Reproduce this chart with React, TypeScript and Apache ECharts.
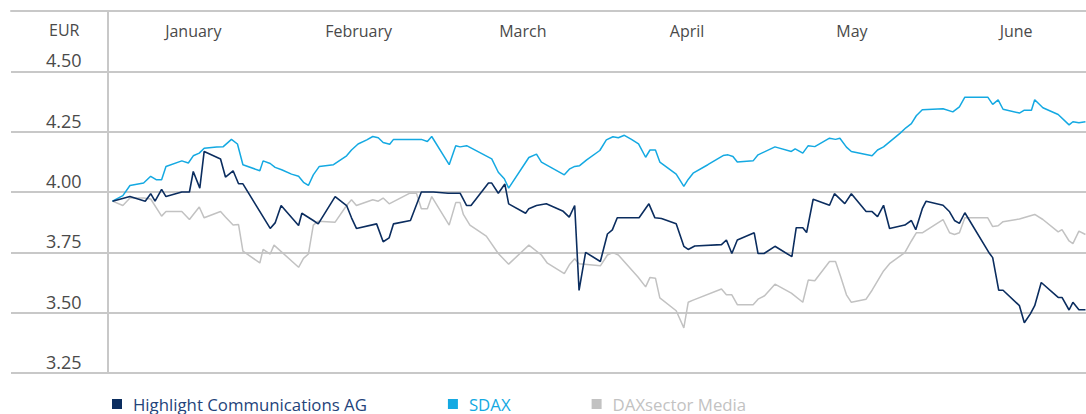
import React, { useEffect, useRef } from "react";
import * as echarts from "echarts";

// x = day of the year (0 = 1 January), y = share price / index in EUR
const monthNames = ["January", "February", "March", "April", "May", "June"];
const monthCenters = [15.7, 46.0, 76.1, 106.2, 136.4, 166.5];
const yTicks = [3.25, 3.5, 3.75, 4.0, 4.25, 4.5, 4.75];
const unitLabel = "EUR";

const highlightName = "Highlight Communications AG";
const sdaxName = "SDAX";
const mediaName = "DAXsector Media";

const highlightData: [number, number][] = [
  [0.9, 3.962], [4.1, 3.981], [6.9, 3.962], [7.9, 3.993], [8.7, 3.962], [9.9, 4.011], [10.7, 3.981],
  [13.6, 4.0], [15.0, 4.0], [15.7, 4.085], [16.9, 4.016], [17.7, 4.168], [20.7, 4.137], [21.6, 4.062],
  [23.0, 4.088], [24.0, 4.034], [24.8, 4.034], [29.8, 3.849], [30.7, 3.872], [31.8, 3.944], [35.0, 3.861],
  [35.6, 3.912], [37.7, 3.882], [38.6, 3.868], [41.7, 3.981], [43.8, 3.944], [44.7, 3.893], [45.6, 3.849],
  [49.3, 3.868], [50.5, 3.794], [51.6, 3.81], [52.4, 3.868], [55.5, 3.882], [57.5, 4.0], [59.7, 4.0],
  [62.4, 3.995], [64.6, 3.995], [65.8, 3.944], [66.6, 3.944], [69.8, 4.037], [70.4, 4.037], [71.6, 3.995],
  [72.8, 4.033], [73.5, 3.951], [76.6, 3.912], [77.2, 3.931], [78.6, 3.944], [80.4, 3.951], [83.5, 3.92],
  [84.6, 3.896], [85.6, 3.944], [86.4, 3.592], [87.6, 3.75], [90.3, 3.712], [91.6, 3.826], [92.5, 3.843],
  [93.4, 3.893], [97.4, 3.893], [99.2, 3.951], [100.3, 3.893], [101.5, 3.89], [104.2, 3.868], [105.6, 3.775],
  [106.4, 3.762], [107.6, 3.776], [112.5, 3.782], [113.4, 3.801], [114.4, 3.745], [115.4, 3.801],
  [118.5, 3.831], [119.2, 3.745], [120.3, 3.745], [122.3, 3.775], [125.4, 3.732], [126.2, 3.852],
  [127.4, 3.852], [128.1, 3.832], [129.3, 3.97], [132.3, 3.945], [133.2, 3.993], [135.1, 3.952],
  [136.3, 3.993], [139.0, 3.919], [140.1, 3.919], [141.1, 3.898], [142.2, 3.945], [143.3, 3.849],
  [146.1, 3.863], [147.3, 3.882], [148.1, 3.844], [149.3, 3.931], [150.0, 3.962], [153.1, 3.945],
  [154.3, 3.918], [155.2, 3.882], [156.1, 3.87], [157.1, 3.914], [161.6, 3.746], [162.2, 3.728],
  [163.3, 3.593], [164.1, 3.593], [167.1, 3.529], [168.0, 3.458], [169.1, 3.495], [169.9, 3.529],
  [171.1, 3.625], [174.2, 3.563], [174.9, 3.563], [176.2, 3.511], [176.9, 3.543], [178.0, 3.512], [179.2, 3.512],
];

const sdaxData: [number, number][] = [
  [0.9, 3.962], [2.8, 3.985], [4.1, 4.027], [6.6, 4.037], [7.9, 4.065], [8.9, 4.051], [9.9, 4.051],
  [10.7, 4.106], [13.6, 4.129], [14.8, 4.12], [15.7, 4.15], [16.8, 4.161], [17.7, 4.181], [20.0, 4.186],
  [21.2, 4.188], [22.7, 4.218], [23.8, 4.199], [24.8, 4.113], [27.9, 4.088], [28.5, 4.129], [29.8, 4.118],
  [30.7, 4.102], [31.9, 4.092], [33.7, 4.074], [35.0, 4.065], [35.9, 4.04], [36.8, 4.027], [37.7, 4.071],
  [38.8, 4.106], [41.4, 4.113], [43.8, 4.15], [44.7, 4.174], [45.9, 4.199], [47.5, 4.216], [48.6, 4.23],
  [49.6, 4.225], [50.5, 4.205], [51.7, 4.198], [52.4, 4.218], [55.4, 4.218], [57.5, 4.218], [58.6, 4.209],
  [59.4, 4.23], [62.6, 4.113], [63.8, 4.192], [64.6, 4.187], [65.8, 4.192], [70.4, 4.137], [71.6, 4.082],
  [72.7, 4.055], [73.5, 4.016], [77.2, 4.143], [78.6, 4.157], [79.5, 4.124], [83.7, 4.071], [84.7, 4.096],
  [85.6, 4.106], [86.5, 4.109], [87.8, 4.133], [90.2, 4.172], [91.4, 4.216], [92.6, 4.229], [93.6, 4.225],
  [94.7, 4.235], [96.0, 4.218], [97.3, 4.199], [98.6, 4.144], [99.4, 4.174], [100.4, 4.174], [101.2, 4.124],
  [104.2, 4.074], [105.6, 4.023], [106.4, 4.052], [107.3, 4.078], [110.0, 4.113], [112.8, 4.151],
  [113.7, 4.154], [114.6, 4.147], [115.4, 4.124], [118.3, 4.129], [119.2, 4.154], [122.3, 4.187],
  [125.3, 4.168], [126.0, 4.179], [127.4, 4.161], [128.4, 4.192], [129.6, 4.188], [132.3, 4.223],
  [133.4, 4.218], [134.2, 4.223], [135.4, 4.186], [136.3, 4.168], [140.1, 4.15], [141.1, 4.174],
  [142.2, 4.187], [145.2, 4.243], [146.3, 4.266], [147.3, 4.283], [148.2, 4.316], [149.3, 4.341],
  [153.1, 4.345], [154.9, 4.332], [156.1, 4.353], [157.1, 4.393], [161.3, 4.393], [162.2, 4.363],
  [163.2, 4.382], [164.1, 4.343], [167.1, 4.327], [168.0, 4.339], [169.3, 4.339], [169.9, 4.382],
  [171.4, 4.349], [174.2, 4.321], [176.2, 4.278], [176.9, 4.291], [178.0, 4.287], [179.2, 4.291],
];

const mediaData: [number, number][] = [
  [0.9, 3.962], [2.8, 3.944], [4.1, 3.975], [6.6, 3.975], [7.9, 3.971], [9.9, 3.9], [10.7, 3.919],
  [13.6, 3.919], [15.0, 3.886], [16.8, 3.938], [17.7, 3.893], [20.7, 3.919], [21.6, 3.896], [23.0, 3.863],
  [24.0, 3.865], [24.8, 3.755], [27.9, 3.706], [28.5, 3.762], [29.8, 3.743], [30.5, 3.78], [35.0, 3.688],
  [35.9, 3.725], [36.8, 3.743], [37.7, 3.863], [38.6, 3.879], [41.7, 3.875], [43.8, 3.944], [44.7, 3.968],
  [45.6, 3.944], [48.6, 3.968], [49.6, 3.962], [50.5, 3.975], [51.6, 3.951], [55.4, 3.995], [56.6, 3.995],
  [57.5, 3.931], [58.6, 3.931], [59.4, 3.981], [62.6, 3.863], [63.8, 3.956], [64.6, 3.956], [65.2, 3.907],
  [66.4, 3.863], [69.4, 3.817], [71.6, 3.745], [73.5, 3.701], [77.2, 3.78], [79.5, 3.739], [80.6, 3.705],
  [83.7, 3.662], [84.7, 3.701], [85.6, 3.723], [86.4, 3.703], [90.3, 3.694], [91.6, 3.739], [92.6, 3.749],
  [93.6, 3.739], [97.2, 3.648], [98.6, 3.607], [99.4, 3.646], [100.4, 3.643], [101.2, 3.561], [104.2, 3.508],
  [105.6, 3.437], [106.4, 3.543], [107.3, 3.552], [112.5, 3.598], [113.4, 3.574], [114.4, 3.574],
  [115.4, 3.533], [118.3, 3.533], [119.2, 3.556], [120.4, 3.57], [122.3, 3.618], [125.3, 3.581],
  [127.4, 3.543], [128.4, 3.635], [129.6, 3.632], [132.3, 3.712], [133.4, 3.712], [134.3, 3.652],
  [135.4, 3.574], [136.3, 3.543], [139.0, 3.556], [140.1, 3.593], [142.2, 3.673], [143.3, 3.703],
  [146.1, 3.749], [147.3, 3.797], [148.2, 3.831], [149.3, 3.831], [153.1, 3.886], [154.3, 3.831],
  [155.2, 3.824], [156.1, 3.831], [157.1, 3.893], [161.3, 3.893], [162.2, 3.857], [163.2, 3.86],
  [164.1, 3.877], [167.1, 3.888], [169.9, 3.907], [171.4, 3.886], [174.2, 3.835], [174.9, 3.844],
  [176.2, 3.797], [176.9, 3.786], [178.0, 3.838], [179.2, 3.824],
];

const NAVY = "#0b2d5f";
const CYAN = "#14a9e2";
const GREY = "#c2c2c2";
const GRID = "#c8c8c8";
const TEXT = "#4a4a4a";
const FONT = "'Open Sans', Roboto, sans-serif";

export default function App() {
  const ref = useRef<HTMLDivElement>(null);
  useEffect(() => {
    if (!ref.current) return;
    const chart = echarts.init(ref.current, undefined, { renderer: "svg" });
    chart.setOption({
      animation: false,
      grid: { left: 11, right: 0, top: 11, bottom: 41, containLabel: false },
      graphic: [
        {
          type: "text",
          left: 49,
          top: 22,
          style: { text: unitLabel, fill: TEXT, fontSize: 16, fontFamily: FONT },
        },
      ],
      legend: {
        data: [
          { name: highlightName, textStyle: { color: "#23437a" } },
          { name: sdaxName, textStyle: { color: CYAN } },
          { name: mediaName, textStyle: { color: GREY } },
        ],
        left: 112,
        top: 395,
        padding: 0,
        icon: "rect",
        itemWidth: 10,
        itemHeight: 10,
        itemGap: 81,
        textStyle: {
          fontSize: 16.8,
          lineHeight: 18,
          fontFamily: FONT,
          padding: [0, 0, 0, 6],
        },
      },
      xAxis: {
        type: "value",
        min: -17.7,
        max: 179.3,
        position: "top",
        axisLine: { show: true, lineStyle: { color: GRID, width: 2 } },
        axisTick: { show: false },
        splitLine: { show: false },
        axisLabel: {
          inside: true,
          margin: 20,
          customValues: monthCenters,
          verticalAlign: "middle",
          color: TEXT,
          fontSize: 16,
          fontFamily: FONT,
          formatter: (v: number) => {
            let best = 0;
            monthCenters.forEach((c, i) => {
              if (Math.abs(c - v) < Math.abs(monthCenters[best] - v)) best = i;
            });
            return monthNames[best];
          },
        },
      },
      yAxis: {
        type: "value",
        min: yTicks[0],
        max: yTicks[yTicks.length - 1],
        interval: 0.25,
        axisLine: { show: true, lineStyle: { color: GRID, width: 2 } },
        axisTick: { show: false },
        splitLine: { show: true, lineStyle: { color: GRID, width: 2 } },
        axisLabel: {
          inside: true,
          margin: 35,
          align: "left",
          verticalAlign: "bottom",
          padding: [0, 0, 2, 0],
          showMaxLabel: false,
          color: TEXT,
          fontSize: 18,
          fontFamily: FONT,
          formatter: (v: number) => v.toFixed(2),
        },
      },
      series: [
        {
          name: mediaName,
          type: "line",
          data: mediaData,
          symbol: "none",
          color: GREY,
          lineStyle: { color: GREY, width: 1.5 },
          z: 2,
        },
        {
          name: sdaxName,
          type: "line",
          data: sdaxData,
          symbol: "none",
          color: CYAN,
          lineStyle: { color: CYAN, width: 1.5 },
          z: 3,
        },
        {
          name: highlightName,
          type: "line",
          data: highlightData,
          symbol: "none",
          color: NAVY,
          lineStyle: { color: NAVY, width: 1.6 },
          z: 4,
        },
      ],
    });
    return () => chart.dispose();
  }, []);
  return (
    <div
      ref={ref}
      style={{ position: "absolute", left: 0, top: 0, width: 1086, height: 414 }}
    />
  );
}
